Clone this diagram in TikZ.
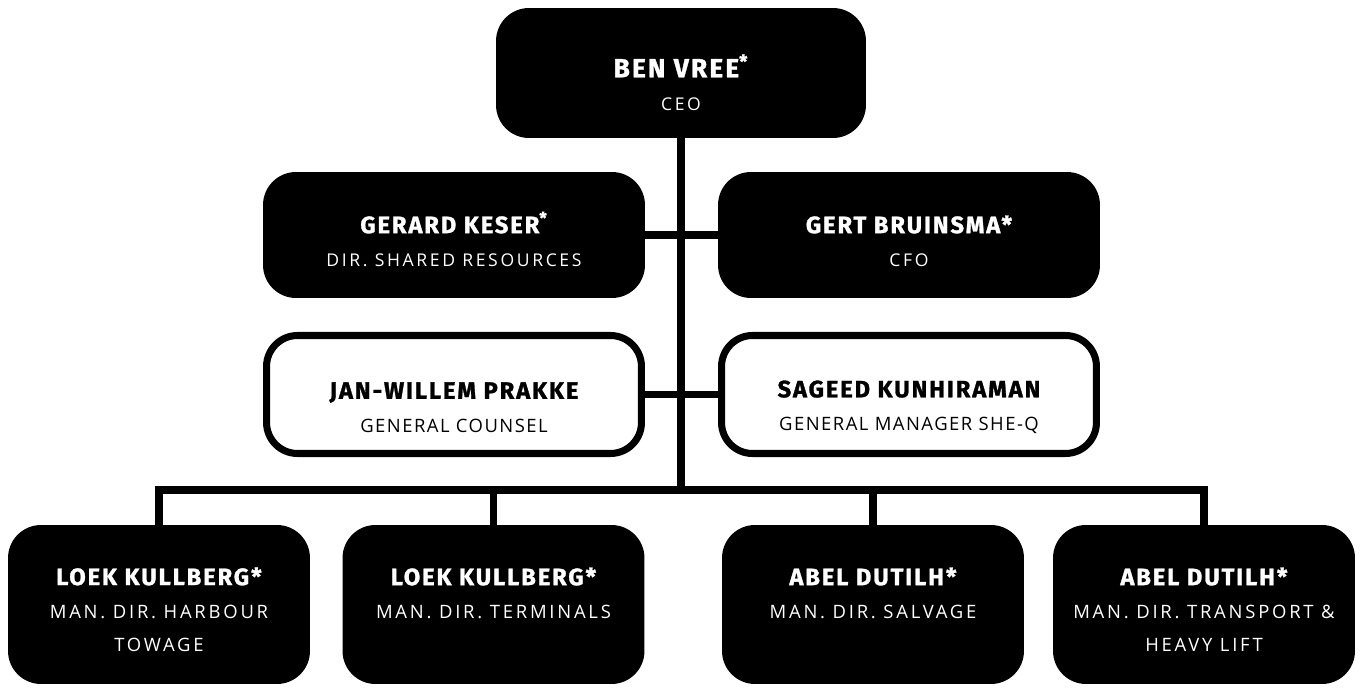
\documentclass[tikz,border=0pt]{standalone}
\usepackage{fontspec}
\setmainfont{Open Sans}
\newfontfamily\namefont[LetterSpace=8, FakeBold=1.2]{Fira Sans}
\newfontfamily\titlefont[LetterSpace=15]{Open Sans}
\newfontfamily\stafffont[LetterSpace=8]{Open Sans}
\usetikzlibrary{positioning, calc}

\begin{document}
\begin{tikzpicture}[x=0.02cm, y=-0.02cm,
    darkbox/.style={fill=black, text=white, rounded corners=0.66cm, align=center, inner sep=0pt,
      minimum width=7.64cm, minimum height=2.52cm, font=\fontsize{10}{19}\selectfont},
    lightbox/.style={draw=black, line width=4pt, fill=white, text=black, rounded corners=0.62cm, align=center,
      inner sep=0pt, minimum width=7.5cm, minimum height=2.36cm, font=\fontsize{10.5}{19}\selectfont},
    unitbox/.style={darkbox, minimum width=6.04cm, minimum height=3.18cm, font=\fontsize{10.5}{19}\selectfont},
    link/.style={line width=4.5pt, line join=miter}]
  \useasboundingbox (0,0) rectangle (1367,689);

  % top
  \node[darkbox, minimum width=7.4cm, minimum height=2.6cm] (ceo) at (681,73)
    {\rule{0pt}{24pt}{\namefont\bfseries\fontsize{15}{15}\selectfont BEN VREE\textsuperscript{*}}\\ {\titlefont CEO}};

  % board
  \node[darkbox] (shared) at (454,235)
    {\rule{0pt}{17pt}{\namefont\bfseries\fontsize{13.5}{13.5}\selectfont GERARD KESER\textsuperscript{*}}\\ {\titlefont DIR. SHARED RESOURCES}};
  \node[darkbox] (cfo) at (909,235)
    {\rule{0pt}{17pt}{\namefont\bfseries\fontsize{13.5}{13.5}\selectfont GERT BRUINSMA*}\\ {\titlefont CFO}};

  % staff
  \node[lightbox] (counsel) at (454,394.5)
    {\rule{0pt}{24pt}{\namefont\bfseries\fontsize{13.5}{13.5}\selectfont JAN-WILLEM PRAKKE}\\ {\stafffont GENERAL COUNSEL}};
  \node[lightbox] (sheq) at (909,394.5)
    {\rule{0pt}{24pt}{\namefont\bfseries\fontsize{13.5}{13.5}\selectfont SAGEED KUNHIRAMAN}\\ {\stafffont GENERAL MANAGER SHE-Q}};

  % business units
  \node[unitbox] (towage) at (159,604.5)
    {\rule{0pt}{16pt}{\namefont\bfseries\fontsize{13.5}{13.5}\selectfont LOEK KULLBERG*}\\ {\titlefont MAN. DIR. HARBOUR}\\ {\titlefont TOWAGE}};
  \node[unitbox] (terminals) at (493.5,604.5)
    {\rule{0pt}{16pt}{\namefont\bfseries\fontsize{13.5}{13.5}\selectfont LOEK KULLBERG*}\\ {\titlefont MAN. DIR. TERMINALS}\\ \mbox{}};
  \node[unitbox] (salvage) at (873,604.5)
    {\rule{0pt}{16pt}{\namefont\bfseries\fontsize{13.5}{13.5}\selectfont ABEL DUTILH*}\\ {\titlefont MAN. DIR. SALVAGE}\\ \mbox{}};
  \node[unitbox] (transport) at (1204,604.5)
    {\rule{0pt}{16pt}{\namefont\bfseries\fontsize{13.5}{13.5}\selectfont ABEL DUTILH*}\\ {\titlefont MAN. DIR. TRANSPORT \&}\\ {\titlefont HEAVY LIFT}};

  \coordinate (bar) at (681,490);

  \draw[link] (ceo.south) -- (bar);
  \draw[link] (shared.east) -- (cfo.west);
  \draw[link] (counsel.east) -- (sheq.west);
  \draw[link] (towage.north) |- (bar) -| (transport.north);
  \draw[link] (terminals.north) -- (terminals.north |- bar);
  \draw[link] (salvage.north) -- (salvage.north |- bar);
\end{tikzpicture}
\end{document}
